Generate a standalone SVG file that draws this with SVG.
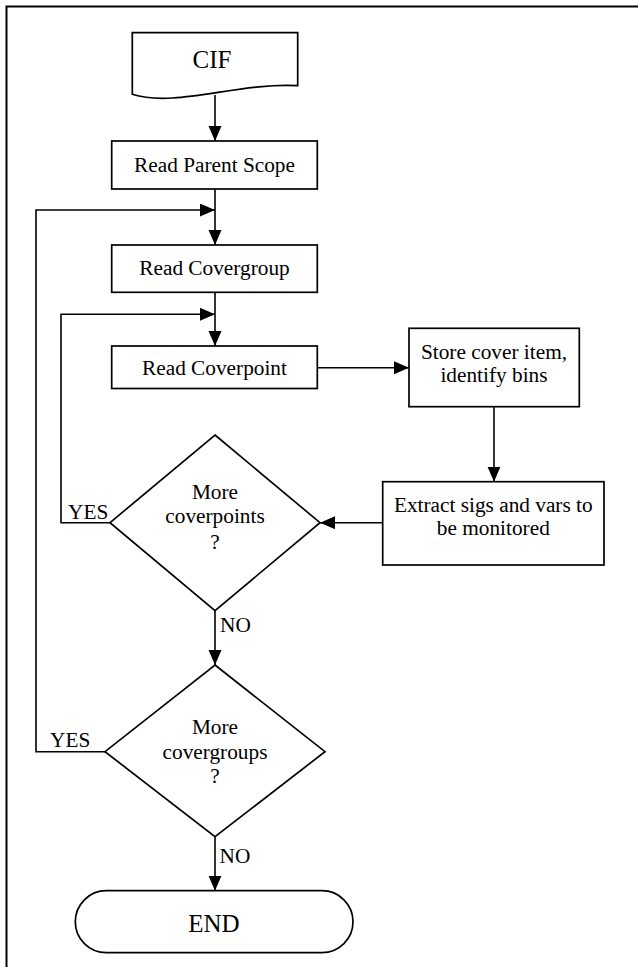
<svg xmlns="http://www.w3.org/2000/svg" width="638" height="967" viewBox="0 0 638 967">
  <style>
    .shape { fill: #ffffff; stroke: #000000; stroke-width: 1.7; }
    .wire { fill: none; stroke: #000000; stroke-width: 1.6; }
    .lbl { font-family: "Liberation Serif", "Times New Roman", serif; font-size: 21.3px; fill: #000000; }
    .mid { text-anchor: middle; }
    .big { font-size: 25px; }
  </style>
  <defs>
    <marker id="arrow" markerUnits="userSpaceOnUse" markerWidth="15" markerHeight="14" refX="15" refY="6.5" orient="auto">
      <path d="M0,0 L15,6.5 L0,13 Z" fill="#000000"/>
    </marker>
  </defs>

  <rect x="0" y="0" width="638" height="967" fill="#ffffff"/>
  <!-- page frame -->
  <path d="M6.5,967 V6.5 H638" fill="none" stroke="#000000" stroke-width="2"/>

  <!-- connectors -->
  <g id="connectors">
    <path class="wire" d="M215,95 V141" marker-end="url(#arrow)"/>
    <path class="wire" d="M215,189 V245" marker-end="url(#arrow)"/>
    <path class="wire" d="M105,751.7 H36 V210 H215" marker-end="url(#arrow)"/>
    <path class="wire" d="M215,292 V346" marker-end="url(#arrow)"/>
    <path class="wire" d="M110,522.7 H61 V314.3 H215" marker-end="url(#arrow)"/>
    <path class="wire" d="M317,367.7 H409" marker-end="url(#arrow)"/>
    <path class="wire" d="M494,407 V481.7" marker-end="url(#arrow)"/>
    <path class="wire" d="M382.7,522.7 H320" marker-end="url(#arrow)"/>
    <path class="wire" d="M215,610.7 V665" marker-end="url(#arrow)"/>
    <path class="wire" d="M215,836.7 V890.7" marker-end="url(#arrow)"/>
    <text class="lbl" x="68" y="519.3">YES</text>
    <text class="lbl" x="220" y="631.7">NO</text>
    <text class="lbl" x="50" y="746.7">YES</text>
    <text class="lbl" x="219.5" y="863.3">NO</text>
  </g>

  <!-- CIF document input -->
  <g id="cif">
    <path class="shape" d="M132.3,32.7 H297.7 V85.7 C240,82 175,108 132.3,94.3 Z"/>
    <text class="lbl big mid" x="212" y="68.3">CIF</text>
  </g>

  <g id="read-parent-scope">
    <rect class="shape" x="111.7" y="141" width="205.6" height="48"/>
    <text class="lbl mid" x="214.5" y="171.7">Read Parent Scope</text>
  </g>

  <g id="read-covergroup">
    <rect class="shape" x="111.7" y="245" width="205.6" height="47.3"/>
    <text class="lbl mid" x="214.5" y="275">Read Covergroup</text>
  </g>

  <g id="read-coverpoint">
    <rect class="shape" x="111.7" y="346" width="205.6" height="42.5"/>
    <text class="lbl mid" x="214.5" y="375">Read Coverpoint</text>
  </g>

  <g id="store-cover-item">
    <rect class="shape" x="409" y="328.3" width="170.3" height="78.4"/>
    <text class="lbl mid" x="494" y="359.3">Store cover item,</text>
    <text class="lbl mid" x="494" y="381.7">identify bins</text>
  </g>

  <g id="extract-sigs">
    <rect class="shape" x="382.7" y="481.7" width="221.3" height="83.3"/>
    <text class="lbl mid" x="493.3" y="511.7">Extract sigs and vars to</text>
    <text class="lbl mid" x="493.3" y="535">be monitored</text>
  </g>

  <g id="more-coverpoints">
    <path class="shape" d="M215,435 L320,522.7 L215,610.7 L110,522.7 Z"/>
    <text class="lbl mid" x="215" y="499">More</text>
    <text class="lbl mid" x="215" y="523.3">coverpoints</text>
    <text class="lbl mid" x="215" y="548.5">?</text>
  </g>

  <g id="more-covergroups">
    <path class="shape" d="M215,665 L325,751.7 L215,836.7 L105,751.7 Z"/>
    <text class="lbl mid" x="215" y="734">More</text>
    <text class="lbl mid" x="215" y="758.5">covergroups</text>
    <text class="lbl mid" x="215" y="783">?</text>
  </g>

  <g id="end">
    <rect class="shape" x="75.3" y="890.7" width="277.7" height="62" rx="31" ry="31"/>
    <text class="lbl big mid" x="214" y="931.7">END</text>
  </g>
</svg>
